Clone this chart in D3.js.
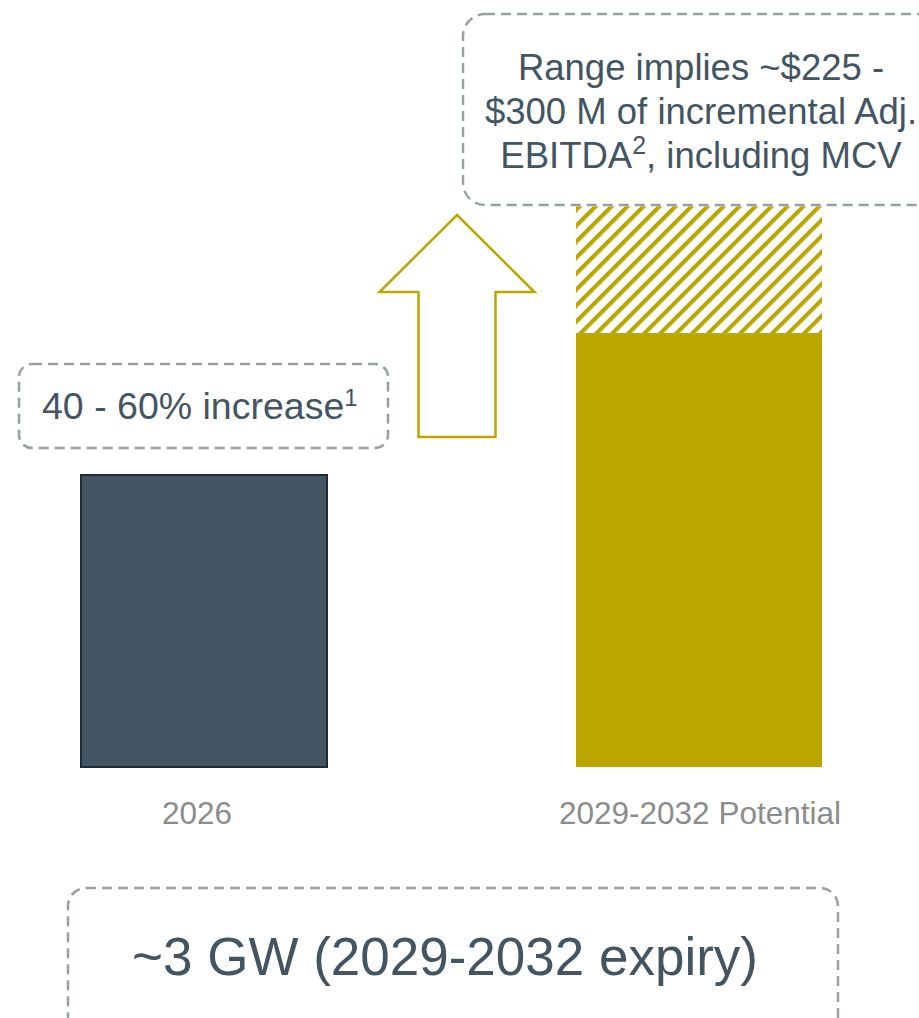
<!DOCTYPE html>
<html>
<head>
<meta charset="utf-8">
<script src="https://cdn.jsdelivr.net/npm/d3@7"></script>
<style>
  html, body { margin: 0; padding: 0; background: #ffffff; }
  svg { display: block; font-family: "Liberation Sans", Arial, sans-serif; }
</style>
</head>
<body>
<svg id="chart" width="919" height="1018"></svg>
<script>
// Categories and values (2026 indexed to 100)
const categories = ["2026", "2029-2032 Potential"];
const baseValues = [100, 148.6];        // solid portion of each bar
const upsideValues = [0, 192];          // top of the hatched upside range
const barColors = ["#435563", "#BBA600"];

const width = 919, height = 1018;
const svg = d3.select("#chart");

const x = d3.scaleBand()
  .domain(categories)
  .range([81, 822])
  .paddingInner(0.503)
  .paddingOuter(0);

const y = d3.scaleLinear()
  .domain([0, 100])
  .range([767, 475]);

// Diagonal hatch for the upside range
const defs = svg.append("defs");
const pat = defs.append("pattern")
  .attr("id", "hatch")
  .attr("patternUnits", "userSpaceOnUse")
  .attr("width", 11.3)
  .attr("height", 11.3)
  .attr("patternTransform", "rotate(45)");
pat.append("rect").attr("width", 11.3).attr("height", 11.3).attr("fill", "#ffffff");
pat.append("rect").attr("x", 0).attr("y", 0).attr("width", 4.2).attr("height", 11.3).attr("fill", barColors[1]);

// Hatched upside
svg.append("g").selectAll("rect")
  .data(categories.map((c, i) => ({ c, base: baseValues[i], top: upsideValues[i] })).filter(d => d.top > d.base))
  .join("rect")
  .attr("x", d => x(d.c))
  .attr("width", x.bandwidth())
  .attr("y", d => y(d.top))
  .attr("height", d => y(d.base) - y(d.top))
  .attr("fill", "url(#hatch)");

// Solid bars
svg.append("g").selectAll("rect")
  .data(categories.map((c, i) => ({ c, v: baseValues[i], i })))
  .join("rect")
  .attr("x", d => x(d.c))
  .attr("width", x.bandwidth())
  .attr("y", d => y(d.v))
  .attr("height", d => y(0) - y(d.v))
  .attr("fill", d => barColors[d.i])
  .attr("stroke", d => d.i === 0 ? "#1e2a34" : "none")
  .attr("stroke-width", 2);

// Category labels
svg.append("g").selectAll("text")
  .data(categories)
  .join("text")
  .attr("x", d => x(d) + x.bandwidth() / 2 + (d === "2026" ? -7 : 1))
  .attr("y", 824)
  .attr("text-anchor", "middle")
  .attr("font-size", 31.5)
  .attr("fill", "#8c8c8c")
  .text(d => d);

// Up arrow between the bars
const arrow = { cx: 457, tip: 215, headBase: 292, bottom: 437, headHalf: 77.5, shaftHalf: 38.5 };
const ap = [
  [arrow.cx, arrow.tip],
  [arrow.cx + arrow.headHalf, arrow.headBase],
  [arrow.cx + arrow.shaftHalf, arrow.headBase],
  [arrow.cx + arrow.shaftHalf, arrow.bottom],
  [arrow.cx - arrow.shaftHalf, arrow.bottom],
  [arrow.cx - arrow.shaftHalf, arrow.headBase],
  [arrow.cx - arrow.headHalf, arrow.headBase]
];
svg.append("path")
  .attr("d", d3.line()(ap) + "Z")
  .attr("fill", "#ffffff")
  .attr("stroke", "#BBA600")
  .attr("stroke-width", 2.5)
  .attr("stroke-linejoin", "miter");

// Dashed callout boxes
const textColor = "#435563";
function callout(bx, by, bw, bh, r) {
  svg.append("rect")
    .attr("x", bx).attr("y", by).attr("width", bw).attr("height", bh)
    .attr("rx", r).attr("ry", r)
    .attr("fill", "#ffffff")
    .attr("stroke", "#97a0a8")
    .attr("stroke-width", 2.5)
    .attr("stroke-dasharray", "10,6");
}

callout(19, 364, 369, 84, 13);
const t1 = svg.append("text")
  .attr("x", 42).attr("y", 419)
  .attr("font-size", 37.5)
  .attr("fill", textColor);
t1.append("tspan").text("40 - 60% increase");
t1.append("tspan").attr("font-size", 24).attr("dy", -13).text("1");

callout(463, 14, 480, 191, 22);
const lines = [
  [{ t: "Range implies ~$225 -" }],
  [{ t: "$300 M of incremental Adj." }],
  [{ t: "EBITDA" }, { t: "2", sup: true }, { t: ", including MCV" }]
];
lines.forEach((parts, i) => {
  const tx = svg.append("text")
    .attr("x", 701).attr("y", 80 + i * 44)
    .attr("text-anchor", "middle")
    .attr("font-size", 36.5)
    .attr("fill", textColor);
  parts.forEach(p => {
    if (p.sup) {
      tx.append("tspan").attr("font-size", 25).attr("dy", -14).text(p.t);
    } else {
      const s = tx.append("tspan").text(p.t);
      if (parts.length > 1 && p !== parts[0]) s.attr("dy", 14);
    }
  });
});

callout(68, 888, 770, 150, 18);
svg.append("text")
  .attr("x", 445).attr("y", 975)
  .attr("text-anchor", "middle")
  .attr("font-size", 53)
  .attr("fill", textColor)
  .text("~3 GW (2029-2032 expiry)");
</script>
</body>
</html>
